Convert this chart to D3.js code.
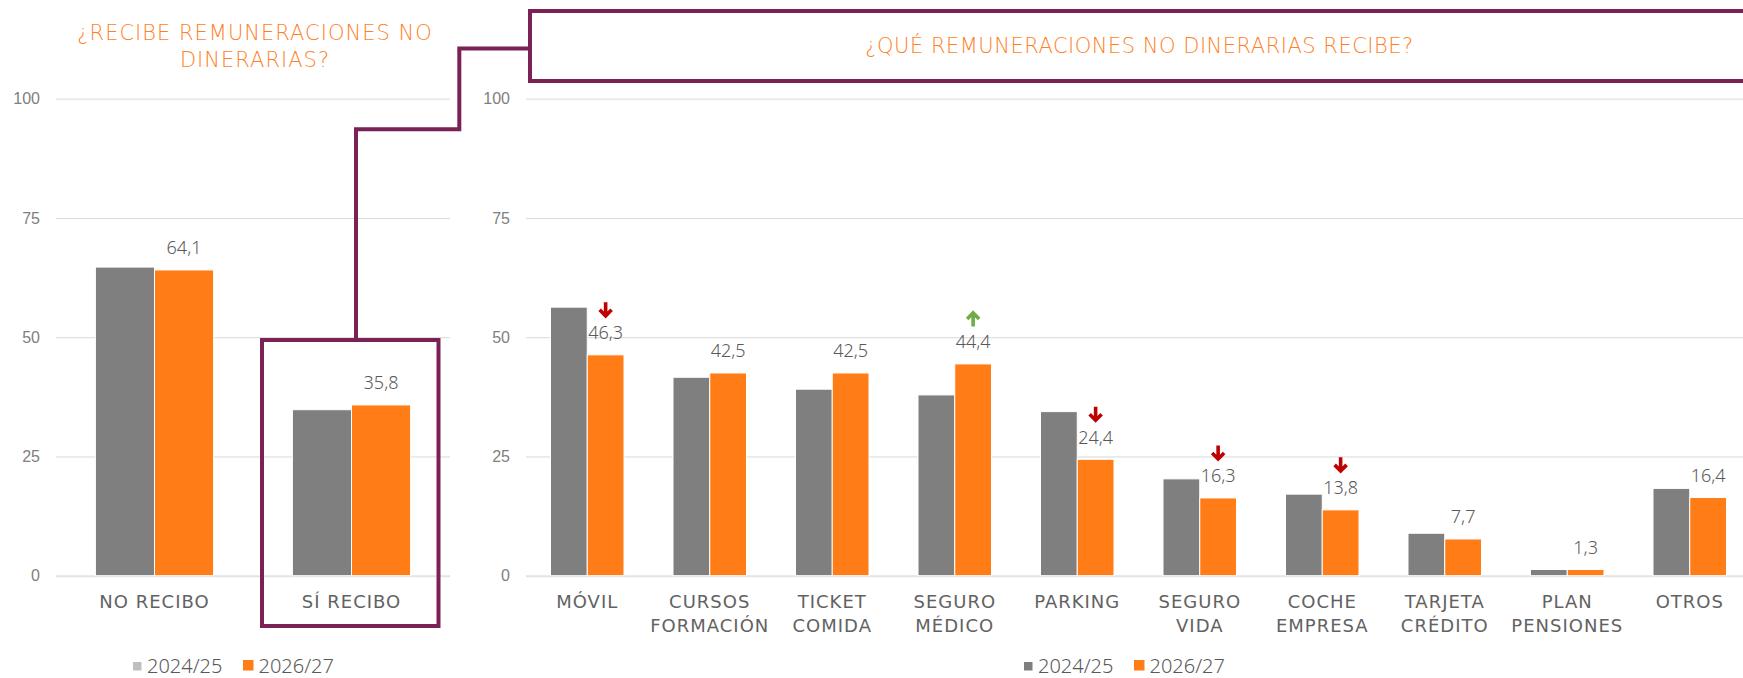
<!DOCTYPE html>
<html>
<head>
<meta charset="utf-8">
<script src="https://cdn.jsdelivr.net/npm/d3@7"></script>
<style>
  html, body { margin: 0; padding: 0; background: #fff; }
  svg { display: block; font-family: "Noto Sans", "DejaVu Sans", sans-serif; }
  .wide { font-family: "DejaVu Sans", "Noto Sans", sans-serif; }
</style>
</head>
<body>
<div id="chart"></div>
<script>
// data
const seriesNames = ['2024/25', '2026/27'];
const yTicks = [0, 25, 50, 75, 100];

const leftCategories = ['NO RECIBO', 'SÍ RECIBO'];
const leftPrev = [64.7, 34.8];
const leftCurr = [64.1, 35.8];

const rightCategories = ['MÓVIL', 'CURSOS\nFORMACIÓN', 'TICKET\nCOMIDA', 'SEGURO\nMÉDICO', 'PARKING',
  'SEGURO\nVIDA', 'COCHE\nEMPRESA', 'TARJETA\nCRÉDITO', 'PLAN\nPENSIONES', 'OTROS'];
const rightPrev = [56.3, 41.6, 39.1, 37.9, 34.4, 20.3, 17.1, 8.9, 1.3, 18.3];
const rightCurr = [46.3, 42.5, 42.5, 44.4, 24.4, 16.3, 13.8, 7.7, 1.3, 16.4];
const rightTrend = ['down', null, null, 'up', 'down', 'down', 'down', null, null, null];

const leftTitle = ['¿RECIBE REMUNERACIONES NO', 'DINERARIAS?'];
const rightTitle = '¿QUÉ REMUNERACIONES NO DINERARIAS RECIBE?';

const W = 1743, H = 678;
const GRAY = '#7f7f7f', ORANGE = '#ff7c17', PURPLE = '#7a2255';
const TEXT = '#595959', LABEL = '#626262', TICK = '#808080', TITLE = '#ff7f27';

const svg = d3.select('#chart').append('svg')
  .attr('width', W).attr('height', H)
  .attr('viewBox', `0 0 ${W} ${H}`);

const y = d3.scaleLinear().domain([0, 100]).range([575.7, 98.7]);

function drawPanel(cfg) {
  const g = svg.append('g');
  const x = d3.scaleBand().domain(cfg.categories).range(cfg.range).padding(0);
  const step = x.bandwidth();
  const xs = d3.scaleBand().domain(seriesNames).range([0.2 * step, 0.8 * step]).padding(0);

  // grid + y axis
  const yAxis = g.append('g')
    .attr('transform', `translate(${cfg.range[0]},0)`)
    .call(d3.axisLeft(y).tickValues(yTicks).tickSize(-(cfg.gridEnd - cfg.range[0])).tickPadding(16));
  yAxis.select('.domain').remove();
  yAxis.selectAll('.tick line')
    .attr('stroke', d => d === 100 ? '#e9e9e9' : (d === 0 ? '#e3e3e3' : '#d9d9d9'))
    .attr('stroke-width', d => (d === 100 || d === 0) ? 2 : 1);
  yAxis.selectAll('.tick text')
    .attr('fill', TICK).attr('font-size', 16).attr('font-weight', 300);

  // bars
  const rows = cfg.categories.map((c, i) => ({ cat: c, prev: cfg.prev[i], curr: cfg.curr[i], trend: cfg.trend ? cfg.trend[i] : null }));
  const grp = g.selectAll('g.cat').data(rows).enter().append('g')
    .attr('class', 'cat')
    .attr('transform', d => `translate(${x(d.cat)},0)`);

  grp.append('rect')
    .attr('x', xs(seriesNames[0])).attr('width', xs.bandwidth())
    .attr('y', d => y(d.prev)).attr('height', d => y(0) - y(d.prev))
    .attr('fill', GRAY).attr('stroke', '#fff').attr('stroke-width', 1);
  grp.append('rect')
    .attr('x', xs(seriesNames[1])).attr('width', xs.bandwidth())
    .attr('y', d => y(d.curr)).attr('height', d => y(0) - y(d.curr))
    .attr('fill', ORANGE).attr('stroke', '#fff').attr('stroke-width', 1);

  const cx = xs(seriesNames[1]) + xs.bandwidth() / 2;
  grp.append('text')
    .attr('x', cx).attr('y', d => y(d.curr) - 15.5)
    .attr('text-anchor', 'middle')
    .attr('fill', TEXT).attr('font-size', 18).attr('font-weight', 300)
    .text(d => d3.format('.1f')(d.curr).replace('.', ','));

  // trend arrows
  grp.filter(d => d.trend).append('path')
    .attr('transform', d => `translate(${cx},${y(d.curr) - 45}) scale(1,${d.trend === 'up' ? -1 : 1})`)
    .attr('d', 'M0,-7.5V6M-6,0L0,6L6,0')
    .attr('fill', 'none')
    .attr('stroke', d => d.trend === 'up' ? '#70ad47' : '#c00000')
    .attr('stroke-width', 3.6);

  // category labels
  const xAxis = g.append('g')
    .attr('transform', `translate(0,${y(0)})`)
    .call(d3.axisBottom(x).tickSize(0).tickFormat(''));
  xAxis.select('.domain').remove();
  xAxis.selectAll('.tick').append('text')
    .attr('class', 'wide')
    .attr('fill', LABEL).attr('font-size', 18).attr('letter-spacing', 1)
    .attr('text-anchor', 'middle')
    .selectAll('tspan')
    .data(d => d.split('\n'))
    .enter().append('tspan')
    .attr('x', 0).attr('y', (d, i) => 32.3 + i * 24)
    .text(d => d);

  // legend
  const lg = g.append('g').attr('transform', `translate(${cfg.legendX},0)`);
  const items = [
    { name: seriesNames[0], color: cfg.legendGray, size: 8.5, x: 0 },
    { name: seriesNames[1], color: ORANGE, size: 10.5, x: 110 }
  ];
  items.forEach(it => {
    lg.append('rect').attr('x', it.x).attr('y', 670.5 - it.size).attr('width', it.size).attr('height', it.size).attr('fill', it.color);
    lg.append('text').attr('x', it.x + (it.size > 9 ? 15.5 : 14)).attr('y', 673)
      .attr('fill', TEXT).attr('font-size', 20).attr('font-weight', 300).text(it.name);
  });

  return x;
}

const xLeft = drawPanel({
  categories: leftCategories, prev: leftPrev, curr: leftCurr,
  range: [56, 450], gridEnd: 450, legendX: 133, legendGray: '#bfbfbf'
});
drawPanel({
  categories: rightCategories, prev: rightPrev, curr: rightCurr, trend: rightTrend,
  range: [526, 1751], gridEnd: 1751, legendX: 1024, legendGray: GRAY
});

// titles
svg.append('text')
  .attr('class', 'wide')
  .attr('x', 255).attr('text-anchor', 'middle')
  .attr('fill', TITLE).attr('font-size', 21).attr('font-weight', 200)
  .attr('letter-spacing', 1)
  .selectAll('tspan').data(leftTitle).enter().append('tspan')
  .attr('x', 255).attr('y', (d, i) => 40 + i * 26.7).text(d => d);

svg.append('rect')
  .attr('x', 530).attr('y', 11).attr('width', 1300).attr('height', 70)
  .attr('fill', 'none').attr('stroke', PURPLE).attr('stroke-width', 4);

svg.append('text')
  .attr('class', 'wide')
  .attr('x', 1139.5).attr('y', 53.3).attr('text-anchor', 'middle')
  .attr('fill', TITLE).attr('font-size', 21).attr('font-weight', 200)
  .attr('letter-spacing', 0.5)
  .text(rightTitle);

// highlight box around "SÍ RECIBO" and connector to the right panel
const bx = xLeft('SÍ RECIBO');
svg.append('rect')
  .attr('x', bx + 9).attr('y', 340).attr('width', 176.5).attr('height', 286)
  .attr('fill', 'none').attr('stroke', PURPLE).attr('stroke-width', 4);
svg.append('path')
  .attr('d', `M${bx + 103},340V129.3H459.3V48.5H530`)
  .attr('fill', 'none').attr('stroke', PURPLE).attr('stroke-width', 4);
</script>
</body>
</html>
